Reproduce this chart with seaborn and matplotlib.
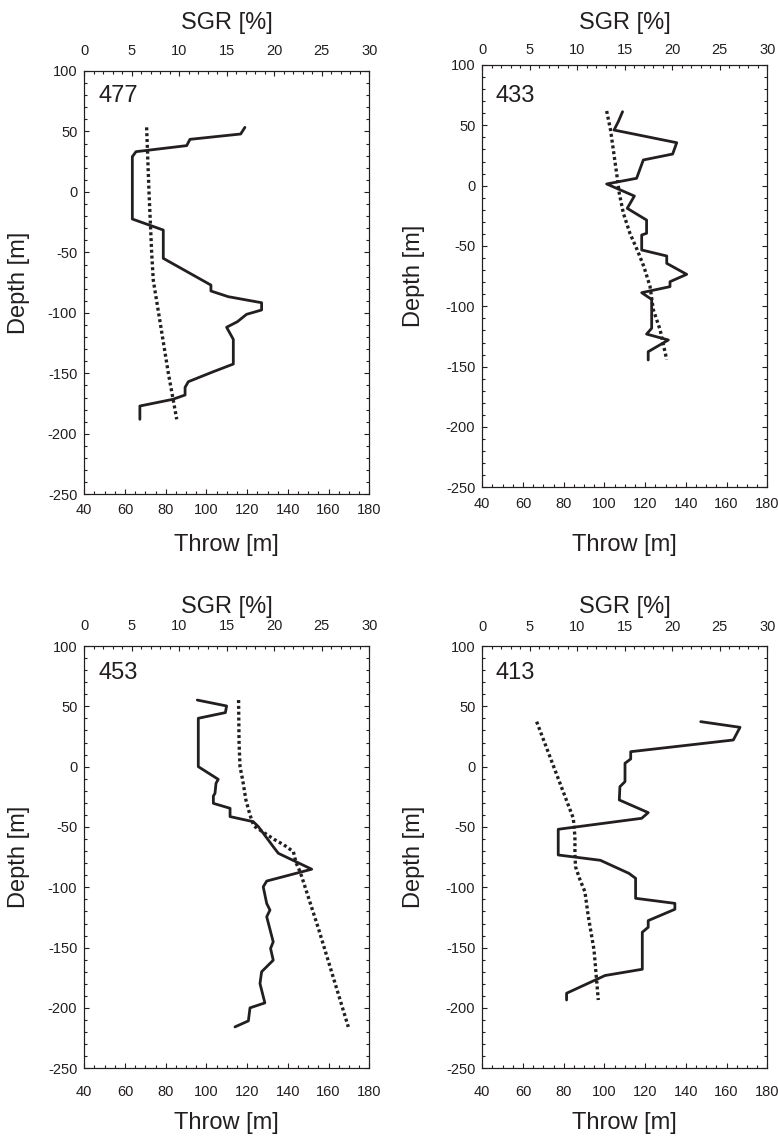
import matplotlib
matplotlib.use("Agg")
import matplotlib.pyplot as plt
from matplotlib.ticker import MultipleLocator
import seaborn as sns

# ----------------------------------------------------
# data
# solid line = throw [m] vs depth, dotted line = SGR [%] vs depth
# ----------------------------------------------------
faults = ["477", "433", "453", "413"]

depth_477 = [53.4, 47.9, 43.5, 38.3, 33.3, 29.2, -22.4, -31.5, -54.9, -77.0, -81.9, -86.6, -91.6,
             -97.6, -101.2, -107.3, -111.9, -121.9, -142.3, -148.6, -156.9, -161.6, -167.9, -171.5,
             -177.0, -188.0]
throw_477 = [118.9, 116.8, 91.9, 90.3, 65.4, 63.6, 63.6, 78.8, 78.8, 102.2, 102.2, 110.7, 127.1,
             127.1, 119.7, 115.2, 109.9, 113.2, 113.2, 103.4, 91.1, 89.5, 89.5, 83.4,
             67.3, 67.3]
sgr_depth_477 = [53.4, 0.0, -50.0, -73.0, -100.0, -150.0, -188.0]
sgr_477 = [6.56, 6.81, 7.09, 7.26, 7.82, 8.85, 9.73]

depth_433 = [61.3, 53.0, 46.1, 35.6, 26.2, 21.3, 6.1, 1.4, -8.6, -18.8, -28.5, -39.5, -40.9,
             -53.3, -58.3, -64.4, -73.5, -79.6, -83.7, -88.7, -94.3, -118.2, -123.0, -127.9,
             -137.6, -144.5]
throw_433 = [108.9, 106.8, 104.7, 135.5, 133.5, 119.1, 115.8, 101.1, 114.7, 111.2, 120.7, 120.7, 118.3,
             118.3, 130.6, 130.6, 140.4, 132.2, 132.2, 118.3, 123.2, 123.2, 120.7, 131.4,
             121.5, 121.5]
sgr_depth_433 = [61.9, 46.1, 10.2, -6.4, -22.9, -39.5, -53.3, -67.1, -83.7, -102.8, -119.3, -144.2]
sgr_433 = [13.09, 13.5, 14.14, 14.42, 14.85, 15.54, 16.31, 17.01, 17.66, 18.0, 18.71, 19.41]

depth_453 = [55.2, 50.3, 44.8, 40.1, 0.0, -10.5, -13.8, -22.1, -24.3, -30.4, -34.5, -41.4, -45.6,
             -49.7, -66.3, -71.8, -85.0, -94.8, -99.6, -113.4, -118.9, -124.4, -145.2, -150.7,
             -160.4, -170.0, -179.8, -195.8, -199.9, -210.7, -215.7]
throw_453 = [95.5, 109.9, 109.3, 96.0, 96.0, 105.8, 104.7, 104.2, 103.4, 103.4, 111.6, 111.6, 123.0,
             125.5, 132.8, 135.3, 151.7, 129.6, 127.9, 129.6, 131.2, 129.6, 132.8, 131.5,
             132.8, 127.1, 126.3, 128.7, 121.4, 120.6, 114.0]
sgr_depth_453 = [55.2, 20.0, 0.0, -11.0, -27.6, -40.0, -49.2, -60.2, -64.9, -70.5, -79.6, -85.6,
                 -91.2, -134.0, -215.7]
sgr_453 = [16.24, 16.29, 16.39, 16.67, 17.01, 17.44, 17.85, 19.97, 21.02, 22.01, 22.29, 22.63,
           22.89, 24.64, 27.79]

depth_413 = [37.3, 32.6, 22.1, 12.4, 6.4, 2.8, -12.4, -16.6, -27.6, -38.1, -42.8, -51.9, -73.2,
             -77.6, -88.4, -92.5, -109.1, -113.3, -118.2, -127.6, -133.1, -137.2, -167.9, -173.1,
             -187.8, -193.4]
throw_413 = [147.3, 166.6, 163.3, 112.9, 112.9, 110.1, 110.1, 107.6, 107.3, 121.5, 118.3, 77.3, 77.3,
             98.0, 112.0, 115.3, 115.3, 134.6, 134.6, 121.5, 121.5, 118.6, 118.6, 100.3,
             81.4, 81.4]
sgr_depth_413 = [37.3, -2.8, -42.8, -58.0, -71.8, -82.9, -93.9, -103.6, -124.3, -151.9, -193.4]
sgr_413 = [5.72, 7.65, 9.58, 9.75, 9.75, 9.81, 10.29, 10.8, 11.16, 11.76, 12.21]

depths = [depth_477, depth_433, depth_453, depth_413]
throws = [throw_477, throw_433, throw_453, throw_413]
sgr_depths = [sgr_depth_477, sgr_depth_433, sgr_depth_453, sgr_depth_413]
sgrs = [sgr_477, sgr_433, sgr_453, sgr_413]

# ----------------------------------------------------
# layout (figure fractions) and per-panel label placement
# ----------------------------------------------------
W, H = 778, 1140
boxes = [(84.3, 71, 494.3), (482.3, 65, 487.3), (84.3, 646, 1068.3), (482.3, 646, 1068.3)]
top_pad = [9.4, 5.5, 9.1, 8.6]
bot_pad = [6.0, 6.8, 12.2, 12.2]
xlab_y = [-0.094, -0.11, -0.103, -0.103]
toplab_y = [1.099, 1.085, 1.079, 1.079]
ylab_x = [-0.19, -0.201, -0.19, -0.201]
tag_pos = [(0.049, 0.967), (0.045, 0.952), (0.049, 0.963), (0.045, 0.963)]

ink = "#231f20"
sns.set_style("ticks")
plt.rcParams["font.family"] = ["Liberation Sans", "DejaVu Sans"]
plt.rcParams["axes.unicode_minus"] = False

fig = plt.figure(figsize=(W / 100, H / 100), dpi=100)

for i, name in enumerate(faults):
    left, top, bottom = boxes[i]
    ax = fig.add_axes([left / W, 1 - bottom / H, 285 / W, (bottom - top) / H])
    ax2 = ax.twiny()

    sns.lineplot(x=throws[i], y=depths[i], sort=False, estimator=None, ax=ax,
                 color=ink, linewidth=2.0)
    sns.lineplot(x=sgrs[i], y=sgr_depths[i], sort=False, estimator=None, ax=ax2,
                 color=ink, linewidth=2.4, linestyle=(0, (0.9, 0.85)))

    ax.set_xlim(40, 180)
    ax2.set_xlim(0, 30)
    ax.set_ylim(-250, 100)

    ax.xaxis.set_major_locator(MultipleLocator(20))
    ax.xaxis.set_minor_locator(MultipleLocator(5))
    ax.yaxis.set_major_locator(MultipleLocator(50))
    ax.yaxis.set_minor_locator(MultipleLocator(10))
    ax2.xaxis.set_major_locator(MultipleLocator(5))
    ax2.xaxis.set_minor_locator(MultipleLocator(1))

    ax.tick_params(axis="x", which="both", direction="in", top=False, bottom=True,
                   labelsize=10.5, pad=bot_pad[i], colors=ink)
    ax.tick_params(axis="y", which="both", direction="in", left=True, right=True,
                   labelsize=10.5, pad=5, colors=ink)
    ax2.tick_params(axis="x", which="both", direction="in", top=True, bottom=False,
                    labelsize=10.5, pad=top_pad[i], colors=ink)
    for a in (ax, ax2):
        a.tick_params(which="major", length=3.6, width=0.8)
        a.tick_params(which="minor", length=2.2, width=0.8)
        for s in a.spines.values():
            s.set_visible(True)
            s.set_color(ink)
            s.set_linewidth(0.8)

    ax.set_xlabel("Throw [m]", fontsize=17, color=ink)
    ax.xaxis.set_label_coords(0.5, xlab_y[i])
    ax.set_ylabel("Depth [m]", fontsize=17, color=ink)
    ax.yaxis.set_label_coords(ylab_x[i], 0.5)
    ax2.set_xlabel("SGR [%]", fontsize=17, color=ink)
    ax2.xaxis.set_label_coords(0.5, toplab_y[i])
    ax2.set_ylabel("")

    ax.text(tag_pos[i][0], tag_pos[i][1], name, transform=ax.transAxes,
            ha="left", va="top", fontsize=17, color=ink)

fig.savefig("out.png", dpi=100)
